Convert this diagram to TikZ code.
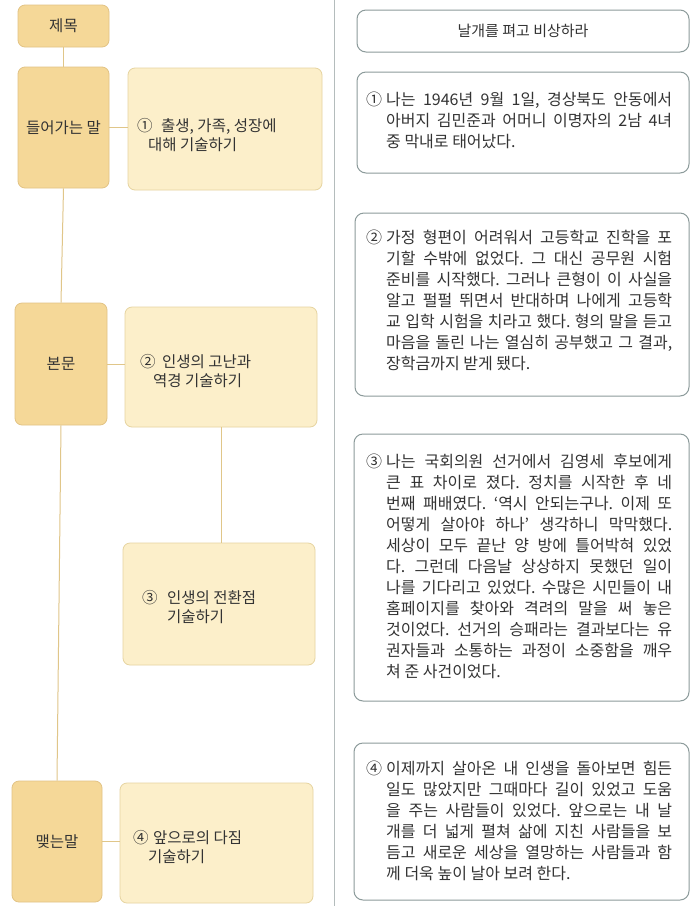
\documentclass[tikz,border=0pt]{standalone}
\usepackage{fontspec}
\setmainfont{Noto Sans CJK KR}
\frenchspacing
\definecolor{secfill}{HTML}{F5D898}
\definecolor{secdraw}{HTML}{E2C385}
\definecolor{confill}{HTML}{FCEFCA}
\definecolor{condraw}{HTML}{E6D4A0}
\definecolor{connc}{HTML}{E0C689}
\definecolor{rboxc}{HTML}{8C9B9B}
\definecolor{sepc}{HTML}{B4BCBC}
\definecolor{txt}{HTML}{333333}
\newlength\hind \newlength\tw
\setlength\hind{20pt}\setlength\tw{286pt}
\newcommand\rfirst[2]{\makebox[\hind][l]{#1}\makebox[\tw][s]{#2}\\}
\newcommand\rmid[1]{\hspace*{\hind}\makebox[\tw][s]{#1}\\}
\newcommand\rlast[1]{\hspace*{\hind}#1}
\newcommand\rpar[1]{\parbox[t]{320pt}{\fontsize{16}{21}\selectfont #1}}
\newcommand\lpar[1]{\parbox[t]{180pt}{\fontsize{15.5}{19.5}\selectfont #1}}
\tikzset{
  secbox/.style={draw=secdraw, fill=secfill, rounded corners=7pt, line width=0.8pt, inner sep=0pt, text=txt, font=\fontsize{15.5}{18}\selectfont},
  conbox/.style={draw=condraw, fill=confill, rounded corners=7pt, line width=0.8pt, inner sep=0pt},
  rbox/.style={draw=rboxc, fill=white, rounded corners=9pt, line width=1pt, inner sep=0pt, text=txt, font=\fontsize{15}{18}\selectfont},
  link/.style={draw=connc, line width=1pt},
  txtnode/.style={anchor=base west, inner sep=0pt, text=txt}
}
\begin{document}
\begin{tikzpicture}[x=1pt,y=-1pt]
\path[fill=white,use as bounding box] (0,0) rectangle (691,906);
% separator
\draw[sepc, line width=0.8pt] (334,0) -- (334,906);
% left column
\node[secbox, minimum width=91pt, minimum height=42pt] (title) at (63.5,26) {제목};
\node[secbox, minimum width=91pt, minimum height=121pt] (intro) at (63.5,127.5) {들어가는 말};
\node[conbox, minimum width=194pt, minimum height=122pt] (c1) at (225,129) {};
\node[secbox, minimum width=92pt, minimum height=122pt] (body) at (61,364) {본문};
\node[conbox, minimum width=192pt, minimum height=120pt] (c2) at (221,367) {};
\node[conbox, minimum width=192pt, minimum height=122pt] (c3) at (219,604) {};
\node[secbox, minimum width=90pt, minimum height=121pt] (closing) at (57,841.5) {맺는말};
\node[conbox, minimum width=193pt, minimum height=120pt] (c4) at (216.5,843) {};
% connectors
\draw[link] (title.south) -- (intro.north);
\draw[link] (intro.east) -- (intro.east -| c1.west);
\draw[link] (intro.south) -- (body.north);
\draw[link] (body.east) -- (body.east -| c2.west);
\draw[link] (c2.south) -- (c2.south |- c3.north);
\draw[link] (body.south) -- (closing.north);
\draw[link] (closing.east) -- (closing.east -| c4.west);
% left texts
\node[txtnode] (l1) at (137,131) {\lpar{\makebox[24pt][l]{①}출생, 가족, 성장에\\\hspace*{11pt}대해 기술하기}};
\node[txtnode] (l2) at (140,367) {\lpar{\makebox[22pt][l]{②}인생의 고난과\\\hspace*{13pt}역경 기술하기}};
\node[txtnode] (l3) at (142,603) {\lpar{\makebox[25pt][l]{③}인생의 전환점\\\hspace*{25pt}기술하기}};
\node[txtnode] (l4) at (133,843) {\lpar{\makebox[20pt][l]{④}앞으로의 다짐\\\hspace*{15pt}기술하기}};
% right column
\node[rbox, minimum width=332pt, minimum height=42pt] (rt) at (523,31) {날개를 펴고 비상하라};
\node[rbox, minimum width=332pt, minimum height=101pt] (r1) at (523,122.5) {};
\node[rbox, minimum width=334pt, minimum height=183pt] (r2) at (522,304.5) {};
\node[rbox, minimum width=335pt, minimum height=267pt] (r3) at (521.5,567.5) {};
\node[rbox, minimum width=335pt, minimum height=157pt] (r4) at (521.5,821.5) {};
\node[txtnode] (t1) at (366,105) {\rpar{%
\rfirst{①}{나는 1946년 9월 1일, 경상북도 안동에서}%
\rmid{아버지 김민준과 어머니 이명자의 2남 4녀}%
\rlast{중 막내로 태어났다.}}};
\node[txtnode] (t2) at (366,243) {\rpar{%
\rfirst{②}{가정 형편이 어려워서 고등학교 진학을 포}%
\rmid{기할 수밖에 없었다. 그 대신 공무원 시험}%
\rmid{준비를 시작했다. 그러나 큰형이 이 사실을}%
\rmid{알고 펄펄 뛰면서 반대하며 나에게 고등학}%
\rmid{교 입학 시험을 치라고 했다. 형의 말을 듣고}%
\rmid{마음을 돌린 나는 열심히 공부했고 그 결과,}%
\rlast{장학금까지 받게 됐다.}}};
\node[txtnode] (t3) at (366,467) {\rpar{%
\rfirst{③}{나는 국회의원 선거에서 김영세 후보에게}%
\rmid{큰 표 차이로 졌다. 정치를 시작한 후 네}%
\rmid{번째 패배였다. ‘역시 안되는구나. 이제 또}%
\rmid{어떻게 살아야 하나’ 생각하니 막막했다.}%
\rmid{세상이 모두 끝난 양 방에 틀어박혀 있었}%
\rmid{다. 그런데 다음날 상상하지 못했던 일이}%
\rmid{나를 기다리고 있었다. 수많은 시민들이 내}%
\rmid{홈페이지를 찾아와 격려의 말을 써 놓은}%
\rmid{것이었다. 선거의 승패라는 결과보다는 유}%
\rmid{권자들과 소통하는 과정이 소중함을 깨우}%
\rlast{쳐 준 사건이었다.}}};
\node[txtnode] (t4) at (366,774) {\rpar{%
\rfirst{④}{이제까지 살아온 내 인생을 돌아보면 힘든}%
\rmid{일도 많았지만 그때마다 길이 있었고 도움}%
\rmid{을 주는 사람들이 있었다. 앞으로는 내 날}%
\rmid{개를 더 넓게 펼쳐 삶에 지친 사람들을 보}%
\rmid{듬고 새로운 세상을 열망하는 사람들과 함}%
\rlast{께 더욱 높이 날아 보려 한다.}}};
\end{tikzpicture}
\end{document}
